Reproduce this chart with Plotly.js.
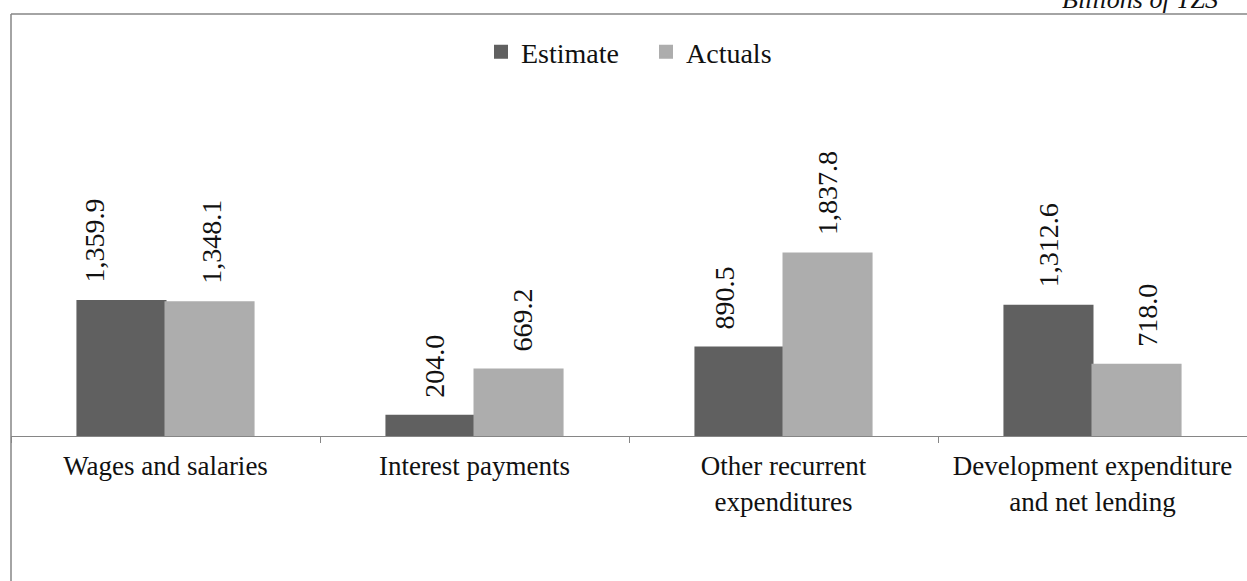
<!DOCTYPE html>
<html>
<head>
<meta charset="utf-8">
<script src="https://cdn.plot.ly/plotly-3.0.1.min.js"></script>
<style>html,body{margin:0;padding:0;background:#fff;}#chart{width:1247px;height:581px;}</style>
</head>
<body>
<div id="chart"></div>
<script>
const categories = ["Wages and salaries", "Interest payments", "Other recurrent<br>expenditures", "Development expenditure<br>and net lending"];
const estimate = [1359.9, 204.0, 890.5, 1312.6];
const actuals = [1348.1, 669.2, 1837.8, 718.0];
const seriesNames = ["Estimate", "Actuals"];
const unitNote = "Billions of TZS";

// styling: label nudges (px) as placed in the original
const labelNudge = [[-27, 4, -15, 0], [2, 4, 0, 11]];
const colors = ["#606060", "#adadad"];
const fmt = v => v.toLocaleString("en-US", {minimumFractionDigits: 1, maximumFractionDigits: 1});
const serif = "Liberation Serif, Times New Roman, serif";

const traces = [estimate, actuals].map((vals, i) => ({
  type: "bar",
  name: seriesNames[i],
  x: categories,
  y: vals,
  marker: {color: colors[i], line: {width: 2, color: colors[i]}},
  hoverinfo: "none"
}));
traces[0].legendwidth = 120;

const annotations = [];
[estimate, actuals].forEach((vals, i) => {
  vals.forEach((v, j) => {
    annotations.push({
      x: categories[j], y: v, xref: "x", yref: "y",
      text: fmt(v), showarrow: false, textangle: -90,
      xanchor: "center", yanchor: "bottom",
      xshift: (i === 0 ? -44 : 44) + labelNudge[i][j], yshift: 16,
      font: {family: serif, size: 28, color: "#111"}
    });
  });
});
annotations.push({
  x: 0.978, y: 1.035, xref: "paper", yref: "paper",
  text: "<i>" + unitNote + "</i>", showarrow: false,
  xanchor: "right", yanchor: "middle",
  font: {family: serif, size: 26, color: "#111"}
});

const layout = {
  width: 1247, height: 581,
  margin: {l: 11, r: 0, t: 14, b: 145, pad: 0},
  paper_bgcolor: "#fff", plot_bgcolor: "#fff",
  barmode: "group", bargap: 0.43, bargroupgap: 0,
  showlegend: true,
  legend: {orientation: "h", x: 0.5, y: 0.91, xanchor: "center", yanchor: "middle",
           font: {family: serif, size: 28, color: "#111"}, bgcolor: "rgba(0,0,0,0)"},
  xaxis: {
    type: "category", showline: true, linecolor: "#868686", linewidth: 1,
    ticks: "outside", tickson: "boundaries", ticklen: 6, tickcolor: "#868686", tickwidth: 1,
    showgrid: false, zeroline: false, ticklabelstandoff: 6,
    tickfont: {family: serif, size: 27, color: "#111"}
  },
  yaxis: {range: [0, 4250], visible: false, showgrid: false, zeroline: false, fixedrange: true},
  shapes: [
    {type: "line", xref: "paper", yref: "paper", x0: 0, x1: 1.01, y0: 1, y1: 1, line: {color: "#868686", width: 1.5}},
    {type: "line", xref: "paper", yref: "paper", x0: 0, x1: 0, y0: -0.4, y1: 1, line: {color: "#868686", width: 1.5}}
  ],
  annotations: annotations
};

Plotly.newPlot("chart", traces, layout, {displayModeBar: false, staticPlot: true});
</script>
</body>
</html>
